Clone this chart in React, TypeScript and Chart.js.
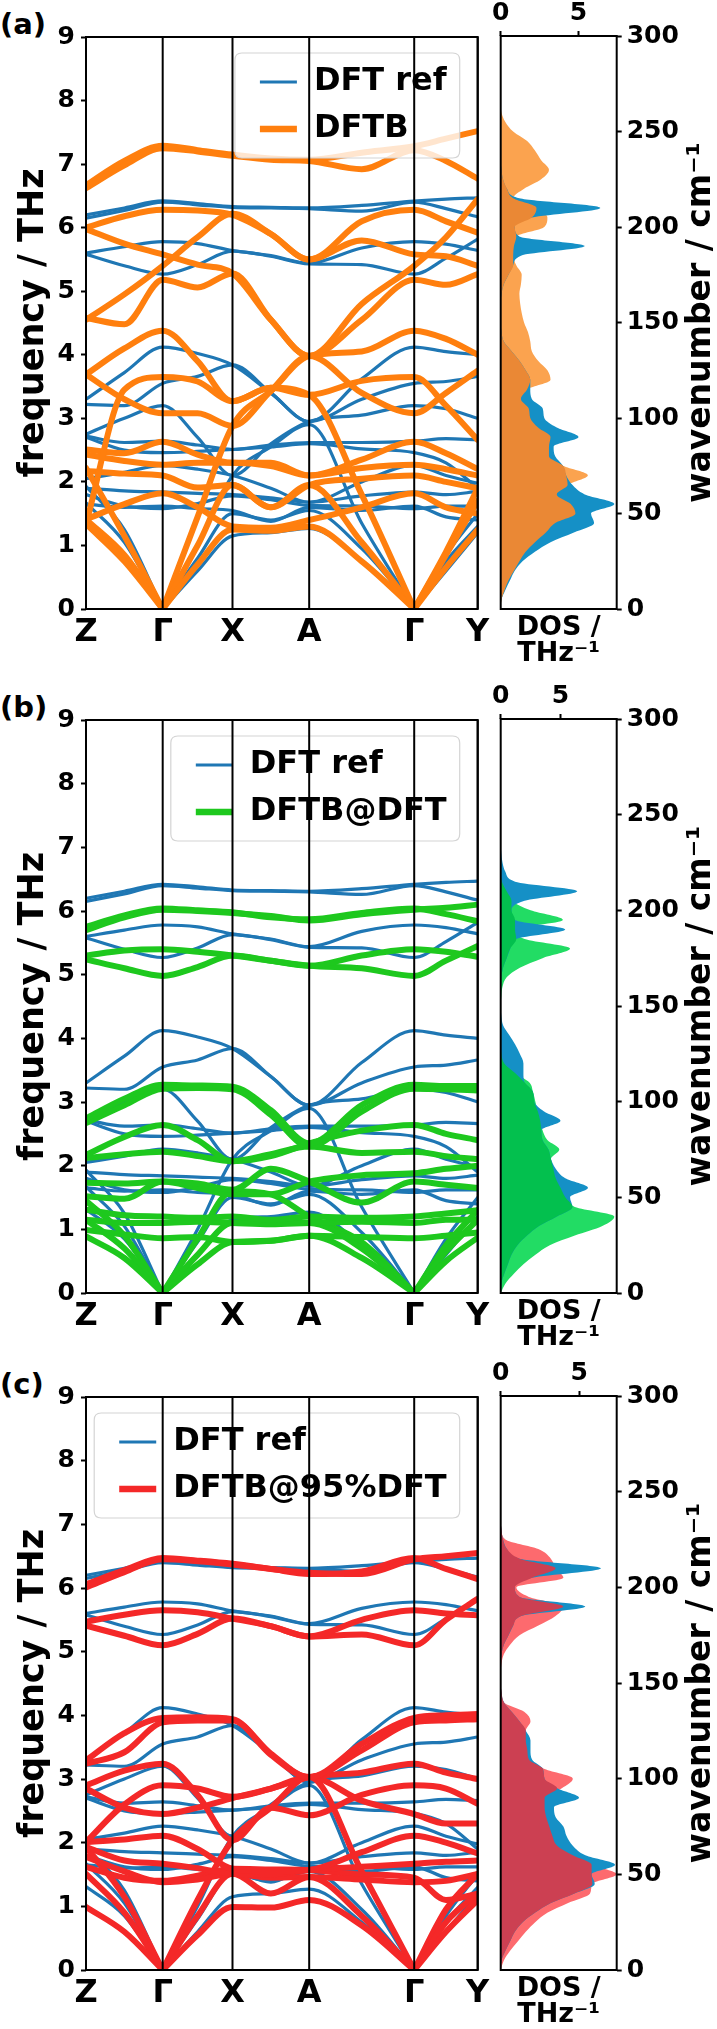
import React, { useEffect, useRef } from 'react';
import { Chart, registerables } from 'chart.js';

Chart.register(...registerables);
Chart.defaults.font.family = "'DejaVu Sans', sans-serif";
Chart.defaults.color = '#000';

// ---------- k-path ----------
const kLabels = ['Z', 'Γ', 'X', 'A', 'Γ', 'Y'];
const kTicks = [0, 0.1958, 0.374, 0.5698, 0.8379, 1.0];
const kSamples = [0, 0.0979, 0.1958, 0.2849, 0.374, 0.4719, 0.5698, 0.7039, 0.8379, 0.919, 1.0];
const freqTicks = [0, 1, 2, 3, 4, 5, 6, 7, 8, 9];
const wavenumberTicks = [0, 50, 100, 150, 200, 250, 300];
const dosTicks = [0, 5];

// ---------- bands (THz) sampled at kSamples ----------
const dftBands = [
  [6.15, 6.27, 6.40, 6.36, 6.32, 6.31, 6.30, 6.26, 6.40, 6.30, 6.17],
  [6.20, 6.31, 6.42, 6.38, 6.33, 6.32, 6.31, 6.35, 6.42, 6.45, 6.47],
  [5.60, 5.70, 5.78, 5.75, 5.64, 5.56, 5.44, 5.68, 5.78, 5.74, 5.64],
  [5.58, 5.40, 5.27, 5.42, 5.63, 5.55, 5.43, 5.42, 5.27, 5.52, 5.82],
  [3.30, 3.72, 4.12, 4.02, 3.84, 3.40, 2.95, 3.62, 4.12, 4.05, 4.00],
  [3.22, 3.20, 3.55, 3.66, 3.84, 3.40, 2.95, 3.30, 3.55, 3.58, 3.66],
  [2.75, 3.00, 3.20, 2.70, 2.10, 2.60, 2.95, 3.05, 3.20, 3.15, 3.00],
  [2.72, 2.62, 2.64, 2.58, 2.51, 2.58, 2.62, 2.62, 2.64, 2.68, 2.66],
  [2.70, 2.50, 2.46, 2.48, 2.51, 2.55, 2.60, 2.52, 2.46, 2.30, 1.90],
  [2.05, 2.15, 2.26, 2.20, 2.10, 1.90, 1.68, 2.00, 2.26, 2.10, 1.98],
  [1.90, 1.86, 1.84, 1.82, 1.80, 1.75, 1.68, 1.78, 1.84, 1.80, 1.85],
  [1.80, 1.62, 1.58, 1.66, 1.78, 1.72, 1.63, 1.62, 1.58, 1.62, 1.62],
  [1.65, 1.60, 1.62, 1.58, 1.55, 1.38, 1.60, 1.55, 1.62, 1.45, 1.40],
  [1.31, 0.85, 0, 0.60, 1.15, 1.20, 1.27, 0.75, 0, 0.60, 1.20],
  [1.67, 1.05, 0, 0.80, 1.50, 1.40, 1.55, 0.95, 0, 0.75, 1.30],
  [1.93, 1.25, 0, 1.00, 2.10, 2.55, 2.90, 1.35, 0, 0.85, 1.50],
];

const dftbBands = [
  [6.62, 6.98, 7.25, 7.20, 7.13, 7.07, 7.05, 6.92, 7.22, 7.05, 6.77],
  [6.67, 7.05, 7.29, 7.22, 7.15, 7.09, 7.07, 7.18, 7.28, 7.40, 7.52],
  [6.00, 6.18, 6.28, 6.27, 6.20, 5.90, 5.50, 6.10, 6.28, 6.10, 5.92],
  [5.98, 5.75, 5.58, 5.42, 5.28, 4.55, 3.98, 4.80, 5.40, 5.85, 6.45],
  [4.55, 4.95, 5.40, 5.85, 6.22, 5.90, 5.50, 5.80, 5.58, 5.55, 5.40],
  [4.58, 4.48, 5.18, 5.06, 5.28, 4.55, 3.98, 4.55, 5.18, 5.10, 5.27],
  [3.69, 4.10, 4.38, 3.90, 3.27, 3.48, 3.37, 3.59, 3.65, 3.20, 2.66],
  [3.69, 3.30, 3.08, 3.08, 2.88, 3.43, 3.98, 4.05, 4.38, 4.25, 4.00],
  [1.34, 3.45, 3.65, 3.58, 3.27, 3.48, 3.37, 1.80, 0, 0.85, 1.70],
  [2.51, 2.45, 2.63, 2.43, 2.30, 2.30, 2.10, 2.22, 2.27, 2.20, 2.10],
  [2.43, 2.33, 2.27, 2.30, 2.30, 2.25, 2.10, 2.35, 2.63, 2.45, 2.20],
  [2.17, 2.13, 2.10, 1.91, 1.95, 1.60, 1.95, 2.05, 2.10, 2.00, 1.90],
  [1.41, 1.65, 1.82, 1.60, 1.30, 1.28, 1.40, 1.60, 1.82, 1.60, 1.50],
  [1.34, 0.75, 0, 0.70, 1.25, 1.23, 1.30, 0.75, 0, 0.65, 1.25],
  [1.41, 0.85, 0, 1.00, 1.95, 1.60, 1.95, 1.05, 0, 0.90, 1.90],
  [2.22, 1.15, 0, 1.45, 2.88, 3.43, 3.98, 3.40, 3.08, 3.40, 3.75],
];

const dftbAtDftBands = [
  [5.70, 5.90, 6.02, 6.00, 5.97, 5.92, 5.85, 5.95, 6.02, 6.05, 6.10],
  [5.75, 5.93, 6.04, 6.01, 5.98, 5.90, 5.87, 5.97, 6.04, 5.95, 5.84],
  [5.30, 5.38, 5.40, 5.36, 5.30, 5.22, 5.14, 5.30, 5.40, 5.36, 5.28],
  [5.24, 5.10, 4.98, 5.12, 5.30, 5.22, 5.14, 5.10, 4.98, 5.22, 5.45],
  [2.74, 3.05, 3.27, 3.26, 3.24, 2.87, 2.35, 2.95, 3.27, 3.25, 3.25],
  [2.67, 2.95, 3.21, 3.22, 3.20, 2.80, 2.30, 2.85, 3.21, 3.20, 3.18],
  [2.17, 2.45, 2.64, 2.40, 2.07, 2.15, 2.35, 2.55, 2.64, 2.50, 2.40],
  [2.12, 2.18, 2.22, 2.15, 2.07, 2.18, 2.30, 2.20, 2.22, 2.15, 2.10],
  [1.73, 1.72, 1.75, 1.72, 1.62, 1.95, 1.75, 1.42, 1.75, 1.70, 1.65],
  [1.52, 1.48, 1.75, 1.65, 1.55, 1.55, 1.75, 1.85, 1.88, 1.95, 2.00],
  [1.31, 1.22, 1.20, 1.18, 1.20, 1.15, 1.20, 1.18, 1.20, 1.25, 1.30],
  [1.15, 1.10, 1.10, 1.12, 1.10, 1.08, 1.10, 1.12, 1.10, 1.15, 1.15],
  [0.99, 0.92, 0.86, 0.88, 0.80, 0.82, 0.90, 0.88, 0.86, 0.90, 0.95],
  [0.89, 0.55, 0, 0.45, 0.80, 0.82, 0.90, 0.55, 0, 0.50, 0.87],
  [1.15, 0.70, 0, 0.60, 1.10, 1.10, 1.10, 0.70, 0, 0.65, 1.15],
  [1.45, 0.90, 0, 0.85, 1.60, 1.55, 1.20, 0.80, 0, 0.75, 1.30],
];

const dftb95Bands = [
  [6.01, 6.25, 6.45, 6.42, 6.37, 6.30, 6.24, 6.22, 6.45, 6.50, 6.55],
  [6.06, 6.28, 6.47, 6.43, 6.38, 6.30, 6.22, 6.26, 6.47, 6.30, 6.14],
  [5.47, 5.58, 5.65, 5.62, 5.52, 5.40, 5.24, 5.50, 5.65, 5.60, 5.57],
  [5.41, 5.25, 5.10, 5.28, 5.52, 5.40, 5.24, 5.27, 5.10, 5.50, 5.83],
  [3.29, 3.72, 3.96, 3.97, 3.94, 3.40, 3.03, 3.55, 3.96, 4.00, 4.02],
  [3.24, 3.42, 3.89, 3.92, 3.92, 3.38, 3.03, 3.45, 3.89, 3.92, 3.94],
  [2.90, 3.13, 3.24, 2.75, 2.04, 2.55, 2.43, 2.75, 2.90, 2.85, 2.61],
  [2.01, 2.60, 2.90, 2.85, 2.72, 2.85, 3.03, 3.10, 3.24, 3.10, 3.00],
  [2.85, 2.55, 2.45, 2.55, 2.70, 2.85, 3.03, 2.66, 2.45, 2.30, 2.30],
  [2.01, 2.05, 2.11, 1.90, 1.59, 1.55, 1.57, 1.85, 2.11, 2.00, 1.83],
  [1.93, 1.72, 1.67, 1.60, 1.51, 1.50, 1.57, 1.62, 1.67, 1.70, 1.72],
  [1.78, 1.55, 1.38, 1.42, 1.51, 1.20, 1.46, 1.42, 1.38, 1.40, 1.51],
  [1.62, 1.45, 1.40, 1.48, 1.59, 1.58, 1.57, 1.50, 1.45, 1.10, 1.20],
  [0.99, 0.60, 0, 0.55, 0.99, 0.98, 1.10, 0.70, 0, 0.60, 1.10],
  [1.51, 0.90, 0, 0.85, 1.51, 1.45, 1.46, 0.85, 0, 0.75, 1.20],
  [1.93, 1.15, 0, 1.10, 2.04, 2.55, 3.03, 1.55, 0, 0.95, 1.51],
];

// ---------- DOS (THz^-1) on wavenumber grid (cm^-1) ----------
const dosWavenumbers = [
  0, 5, 10, 15, 20, 25, 30, 35, 40, 45, 50, 55, 60, 65, 70, 75, 80, 85, 90, 95,
  100, 105, 110, 115, 120, 125, 130, 135, 140, 145, 150, 155, 160, 165, 170, 175, 180, 185, 190, 195,
  200, 205, 210, 215, 220, 225, 230, 235, 240, 245, 250, 255, 260, 265, 270, 275, 280, 285, 290, 295, 300,
];
const dosDft = [
  0, 0.05, 0.3, 0.6, 0.9, 1.4, 2.2, 3.2, 4.7, 6.0, 5.8, 7.3, 5.4, 4.6, 4.2, 4.0, 3.5, 3.4, 5.0, 3.6,
  2.8, 2.7, 2.0, 1.9, 1.9, 1.6, 1.2, 0.7, 0.2, 0.05, 0, 0, 0, 0.05, 0.2, 0.5, 0.8, 1.3, 5.4, 1.2,
  0.9, 2.0, 6.4, 1.2, 0.4, 0.15, 0.05, 0, 0, 0, 0, 0, 0, 0, 0, 0, 0, 0, 0, 0, 0,
];
const dosDftb = [
  0, 0.05, 0.25, 0.5, 0.85, 1.2, 1.6, 2.2, 2.9, 3.5, 4.8, 4.5, 3.6, 4.3, 5.6, 4.0, 3.1, 3.1, 3.2, 2.4,
  1.9, 1.8, 1.3, 1.7, 3.2, 3.0, 2.4, 2.0, 1.9, 1.75, 1.5, 1.35, 1.25, 1.2, 1.3, 1.35, 1.0, 0.8, 0.85, 1.0,
  2.8, 3.0, 2.3, 0.8, 1.5, 2.6, 3.1, 2.6, 2.2, 1.7, 0.8, 0.3, 0.05, 0, 0, 0, 0, 0, 0, 0, 0,
];
const dosDftbAtDft = [
  0, 0.4, 1.1, 1.9, 2.9, 4.1, 6.2, 8.5, 9.5, 6.2, 5.4, 5.0, 4.6, 4.4, 4.2, 4.9, 3.9, 3.5, 3.3, 3.1,
  2.9, 2.7, 2.4, 1.2, 0.3, 0.05, 0, 0, 0, 0, 0, 0.05, 0.15, 0.5, 1.6, 3.5, 5.8, 2.0, 1.2, 5.2,
  2.5, 0.9, 0.5, 0.1, 0, 0, 0, 0, 0, 0, 0, 0, 0, 0, 0, 0, 0, 0, 0, 0, 0,
];
const dosDftb95 = [
  0, 0.2, 0.6, 1.1, 1.6, 2.2, 3.0, 4.3, 5.7, 5.85, 7.4, 5.8, 4.6, 3.6, 3.3, 3.1, 2.9, 2.8, 2.8, 3.9,
  4.6, 2.8, 1.8, 1.7, 1.6, 1.6, 1.9, 1.5, 0.2, 0.05, 0, 0, 0.05, 0.2, 0.6, 1.2, 2.4, 3.5, 4.0, 1.8,
  1.0, 4.0, 3.5, 3.2, 2.4, 0.3, 0.05, 0, 0, 0, 0, 0, 0, 0, 0, 0, 0, 0, 0, 0, 0,
];

// ---------- styles ----------
const DFT_LINE = '#1f77b4';
const DFT_FILL = '#1590c6';
const FONT = "'DejaVu Sans', sans-serif";

const panels = [
  { tag: '(a)', top: 36, bottom: 609, label: 'DFTB', line: '#ff7f0e', light: '#fba34f', dark: '#ea8835', bands: dftbBands, dos: dosDftb, dosMax: 7.45 },
  { tag: '(b)', top: 719, bottom: 1293, label: 'DFTB@DFT', line: '#1ec81e', light: '#22dc64', dark: '#03c04e', bands: dftbAtDftBands, dos: dosDftbAtDft, dosMax: 9.7 },
  { tag: '(c)', top: 1396, bottom: 1970, label: 'DFTB@95%DFT', line: '#f42828', light: '#fd6a6e', dark: '#cc4052', bands: dftb95Bands, dos: dosDftb95, dosMax: 7.4 },
];

function bandDatasets(bands: number[][], color: string, width: number, order: number) {
  const out: any[] = [];
  const mk = (data: any[]) => ({
    data, borderColor: color, borderWidth: width, pointRadius: 0, fill: false,
    cubicInterpolationMode: 'monotone', order, borderCapStyle: 'round', borderJoinStyle: 'round',
  });
  bands.forEach((b) => {
    let piece: any[] = [];
    b.forEach((f, i) => {
      piece.push({ x: kSamples[i], y: f });
      if (f === 0 && i > 0 && i < b.length - 1) {
        out.push(mk(piece));
        piece = [{ x: kSamples[i], y: f }];
      }
    });
    out.push(mk(piece));
  });
  return out;
}

const BAND_W = 500;
const BAND_PAD_TOP = 20;
const BAND_X_H = 60;

function BandChart({ p }: { p: any }) {
  const ref = useRef<HTMLCanvasElement>(null);
  const h = p.bottom - p.top + BAND_PAD_TOP + BAND_X_H;
  useEffect(() => {
    const items = [
      { label: 'DFT ref', color: DFT_LINE, width: 3.2 },
      { label: p.label, color: p.line, width: 6.5 },
    ];
    const decor = {
      id: 'bandDecor',
      afterDatasetsDraw(chart: any) {
        const { ctx, chartArea: a, scales } = chart;
        ctx.save();
        // legend
        ctx.font = `bold 32px ${FONT}`;
        const textW = Math.max(...items.map((it) => ctx.measureText(it.label).width));
        const padL = 25, handle = 37, gap = 17, padR = 13;
        const w = padL + handle + gap + textW + padR;
        const lh = 105;
        const right = a.right - 18;
        const top = a.top + 16;
        const left = right - w;
        const r = 7;
        ctx.beginPath();
        ctx.moveTo(left + r, top);
        ctx.lineTo(right - r, top);
        ctx.quadraticCurveTo(right, top, right, top + r);
        ctx.lineTo(right, top + lh - r);
        ctx.quadraticCurveTo(right, top + lh, right - r, top + lh);
        ctx.lineTo(left + r, top + lh);
        ctx.quadraticCurveTo(left, top + lh, left, top + lh - r);
        ctx.lineTo(left, top + r);
        ctx.quadraticCurveTo(left, top, left + r, top);
        ctx.closePath();
        ctx.fillStyle = 'rgba(255,255,255,0.8)';
        ctx.fill();
        ctx.strokeStyle = '#d4d4d4';
        ctx.lineWidth = 1.2;
        ctx.stroke();
        items.forEach((it, i) => {
          const cy = top + 29 + i * 47;
          ctx.beginPath();
          ctx.strokeStyle = it.color;
          ctx.lineWidth = it.width;
          ctx.moveTo(left + padL, cy);
          ctx.lineTo(left + padL + handle, cy);
          ctx.stroke();
          ctx.fillStyle = '#000';
          ctx.textBaseline = 'middle';
          ctx.textAlign = 'left';
          ctx.fillText(it.label, left + padL + handle + gap, cy);
        });
        // high-symmetry lines + frame
        ctx.strokeStyle = '#000';
        ctx.lineWidth = 2;
        kTicks.forEach((v) => {
          const x = scales.x.getPixelForValue(v);
          ctx.beginPath();
          ctx.moveTo(x, a.top);
          ctx.lineTo(x, a.bottom);
          ctx.stroke();
        });
        ctx.strokeRect(a.left, a.top, a.right - a.left, a.bottom - a.top);
        // k-point labels
        ctx.font = `bold 32px ${FONT}`;
        ctx.fillStyle = '#000';
        ctx.textAlign = 'center';
        ctx.textBaseline = 'middle';
        kTicks.forEach((v, i) => {
          ctx.fillText(kLabels[i], scales.x.getPixelForValue(v), a.bottom + 24);
        });
        ctx.restore();
      },
    };
    const chart = new Chart(ref.current as HTMLCanvasElement, {
      type: 'line',
      data: {
        datasets: [
          ...bandDatasets(p.bands, p.line, 6, 1),
          ...bandDatasets(dftBands, DFT_LINE, 3.2, 2),
        ],
      },
      options: {
        animation: false,
        responsive: false,
        maintainAspectRatio: false,
        layout: { padding: { top: BAND_PAD_TOP, right: BAND_W - 477.7, left: 0, bottom: 0 } },
        plugins: { legend: { display: false }, tooltip: { enabled: false } },
        scales: {
          x: {
            type: 'linear', min: 0, max: 1,
            afterBuildTicks: (s: any) => { s.ticks = kTicks.map((v) => ({ value: v })); },
            afterFit: (s: any) => { s.height = BAND_X_H; },
            ticks: { display: false },
            grid: { display: false, drawTicks: false },
            border: { display: false },
          },
          y: {
            type: 'linear', min: 0, max: 9,
            afterBuildTicks: (s: any) => { s.ticks = freqTicks.map((v) => ({ value: v })); },
            afterFit: (s: any) => { s.width = 86; },
            ticks: { padding: 6, font: { size: 25, weight: 'bold' }, color: '#000' },
            grid: { drawOnChartArea: false, drawTicks: true, tickLength: 5, tickColor: '#000', tickWidth: 2 },
            border: { display: false },
            title: {
              display: true, text: 'frequency / THz', color: '#000',
              font: { size: 35, weight: 'bold' }, padding: { top: 13, bottom: 0 },
            },
          },
        },
      } as any,
      plugins: [decor],
    } as any);
    return () => chart.destroy();
  }, []);
  return (
    <canvas
      ref={ref}
      width={BAND_W}
      height={h}
      style={{ position: 'absolute', left: 0, top: p.top - BAND_PAD_TOP, width: BAND_W, height: h }}
    />
  );
}

const DOS_LEFT = 490;
const DOS_W = 227;
const DOS_TOP_H = 40;
const DOS_BOT_H = 70;

function DosChart({ p }: { p: any }) {
  const ref = useRef<HTMLCanvasElement>(null);
  const h = p.bottom - p.top + DOS_TOP_H + DOS_BOT_H;
  useEffect(() => {
    const decor = {
      id: 'dosDecor',
      afterDraw(chart: any) {
        const { ctx, chartArea: a, scales } = chart;
        ctx.save();
        ctx.strokeStyle = '#000';
        ctx.lineWidth = 2;
        ctx.strokeRect(a.left, a.top, a.right - a.left, a.bottom - a.top);
        ctx.fillStyle = '#000';
        // top tick labels
        ctx.font = `bold 25px ${FONT}`;
        ctx.textAlign = 'center';
        ctx.textBaseline = 'middle';
        dosTicks.forEach((v) => ctx.fillText(String(v), scales.x.getPixelForValue(v), a.top - 23));
        // bottom label
        const cx = (a.left + a.right) / 2;
        ctx.font = `bold 27px ${FONT}`;
        ctx.fillText('DOS /', cx, a.bottom + 19);
        ctx.fillText('THz⁻¹', cx, a.bottom + 45);
        // right title
        ctx.translate(701 - DOS_LEFT, (a.top + a.bottom) / 2);
        ctx.rotate(-Math.PI / 2);
        ctx.font = `bold 33px ${FONT}`;
        ctx.fillText('wavenumber / cm⁻¹', 0, 0);
        ctx.restore();
      },
    };
    const pts = (vals: number[]) => vals.map((v, i) => ({ x: v, y: dosWavenumbers[i] }));
    const overlap = dosDft.map((v, i) => Math.min(v, p.dos[i]));
    const area = (vals: number[], color: string, order: number) => ({
      data: pts(vals), backgroundColor: color, borderColor: color, borderWidth: 0,
      fill: 'origin', pointRadius: 0, cubicInterpolationMode: 'monotone', order,
    });
    const chart = new Chart(ref.current as HTMLCanvasElement, {
      type: 'line',
      data: {
        datasets: [
          area(overlap, p.dark, 1),
          area(dosDft, DFT_FILL, 2),
          area(p.dos, p.light, 3),
        ],
      },
      options: {
        indexAxis: 'y',
        animation: false,
        responsive: false,
        maintainAspectRatio: false,
        layout: { padding: { left: 500.7 - DOS_LEFT, top: 0, right: 0, bottom: DOS_BOT_H } },
        plugins: { legend: { display: false }, tooltip: { enabled: false } },
        scales: {
          x: {
            type: 'linear', position: 'top', min: 0, max: p.dosMax,
            afterBuildTicks: (s: any) => { s.ticks = dosTicks.map((v) => ({ value: v })); },
            afterFit: (s: any) => { s.height = DOS_TOP_H; },
            ticks: { display: false },
            grid: { drawOnChartArea: false, drawTicks: true, tickLength: 5, tickColor: '#000', tickWidth: 2 },
            border: { display: false },
          },
          y: {
            type: 'linear', position: 'right', min: 0, max: 300,
            afterBuildTicks: (s: any) => { s.ticks = wavenumberTicks.map((v) => ({ value: v })); },
            afterFit: (s: any) => { s.width = DOS_LEFT + DOS_W - 616.7; },
            ticks: { padding: 5, font: { size: 25, weight: 'bold' }, color: '#000' },
            grid: { drawOnChartArea: false, drawTicks: true, tickLength: 5, tickColor: '#000', tickWidth: 2 },
            border: { display: false },
          },
        },
      } as any,
      plugins: [decor],
    } as any);
    return () => chart.destroy();
  }, []);
  return (
    <canvas
      ref={ref}
      width={DOS_W}
      height={h}
      style={{ position: 'absolute', left: DOS_LEFT, top: p.top - DOS_TOP_H, width: DOS_W, height: h }}
    />
  );
}

export default function App() {
  return (
    <div style={{ position: 'absolute', left: 0, top: 0, width: 717, height: 2029, background: '#fff', overflow: 'hidden' }}>
      {panels.map((p) => (
        <React.Fragment key={p.tag}>
          <div
            style={{
              position: 'absolute', left: 0, top: p.top - 30, height: 36, lineHeight: '36px',
              fontFamily: FONT, fontWeight: 'bold', fontSize: 29, color: '#000',
            }}
          >
            {p.tag}
          </div>
          <BandChart p={p} />
          <DosChart p={p} />
        </React.Fragment>
      ))}
    </div>
  );
}
